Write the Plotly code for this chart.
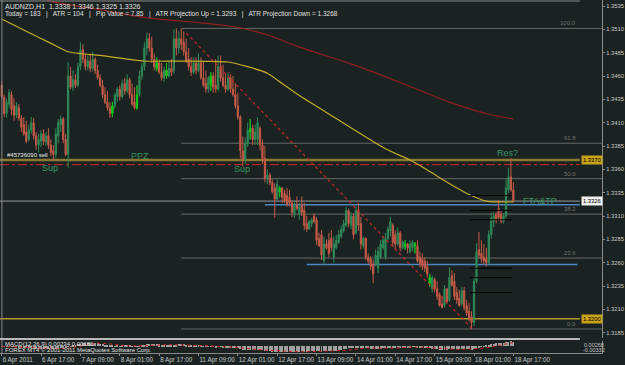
import plotly.graph_objects as go
import pandas as pd

# ---------------- data (AUDNZD H1, bar index 0 = 6 Apr 2011 01:00) ----------------
open_ = [
1.3450,1.3437,1.3420,1.3430,1.3440,1.3428,1.3418,1.3426,1.3415,1.3408,
1.3400,1.3392,1.3402,1.3410,1.3396,1.3386,1.3390,1.3398,1.3389,1.3396,
1.3386,1.3380,1.3376,1.3396,1.3408,1.3414,1.3392,1.3376,1.3460,1.3448,
1.3456,1.3450,1.3470,1.3488,1.3478,1.3470,1.3476,1.3468,1.3478,1.3466,
1.3458,1.3450,1.3440,1.3432,1.3426,1.3420,1.3428,1.3438,1.3446,1.3438,
1.3452,1.3444,1.3456,1.3440,1.3432,1.3426,1.3440,1.3460,1.3470,1.3490,
1.3500,1.3490,1.3478,1.3468,1.3474,1.3464,1.3458,1.3466,1.3460,1.3468,
1.3466,1.3500,1.3490,1.3500,1.3496,1.3486,1.3478,1.3470,1.3464,1.3474,
1.3466,1.3474,1.3458,1.3452,1.3446,1.3450,1.3460,1.3450,1.3446,1.3470,
1.3458,1.3450,1.3446,1.3458,1.3446,1.3440,1.3428,1.3416,1.3380,1.3370,
1.3388,1.3400,1.3404,1.3392,1.3392,1.3404,1.3386,1.3372,1.3350,1.3354,
1.3346,1.3340,1.3328,1.3336,1.3340,1.3334,1.3332,1.3330,1.3324,1.3312,
1.3322,1.3312,1.3322,1.3316,1.3302,1.3296,1.3302,1.3310,1.3306,1.3286,
1.3290,1.3262,1.3280,1.3284,1.3286,1.3266,1.3276,1.3282,1.3288,1.3294,
1.3300,1.3316,1.3300,1.3310,1.3292,1.3316,1.3302,1.3278,1.3286,1.3266,
1.3264,1.3258,1.3258,1.3254,1.3266,1.3276,1.3266,1.3286,1.3294,1.3300,
1.3290,1.3280,1.3292,1.3276,1.3278,1.3280,1.3272,1.3276,1.3278,1.3278,
1.3266,1.3264,1.3262,1.3256,1.3238,1.3232,1.3242,1.3232,1.3226,1.3216,
1.3214,1.3232,1.3220,1.3246,1.3240,1.3228,1.3222,1.3216,1.3230,1.3214,
1.3208,1.3202,1.3196,1.3240,1.3274,1.3270,1.3266,1.3264,1.3260,1.3290,
1.3304,1.3312,1.3318,1.3312,1.3304,1.3310,1.3338,1.3352,1.3338]

high_ = [
1.3454,1.3440,1.3436,1.3446,1.3444,1.3436,1.3432,1.3430,1.3418,1.3416,
1.3412,1.3408,1.3416,1.3415,1.3400,1.3398,1.3402,1.3403,1.3400,1.3404,
1.3392,1.3386,1.3404,1.3414,1.3418,1.3416,1.3398,1.3475,1.3470,1.3466,
1.3462,1.3474,1.3496,1.3494,1.3484,1.3482,1.3484,1.3486,1.3480,1.3472,
1.3462,1.3456,1.3448,1.3444,1.3432,1.3432,1.3442,1.3448,1.3450,1.3456,
1.3458,1.3462,1.3458,1.3452,1.3448,1.3450,1.3466,1.3474,1.3496,1.3506,
1.3506,1.3502,1.3484,1.3480,1.3478,1.3474,1.3470,1.3474,1.3476,1.3478,
1.3510,1.3511,1.3508,1.3511,1.3508,1.3500,1.3490,1.3480,1.3480,1.3480,
1.3484,1.3480,1.3476,1.3466,1.3460,1.3464,1.3464,1.3478,1.3482,1.3482,
1.3472,1.3462,1.3464,1.3462,1.3460,1.3452,1.3442,1.3418,1.3395,1.3394,
1.3410,1.3414,1.3408,1.3408,1.3416,1.3406,1.3392,1.3385,1.3360,1.3356,
1.3349,1.3345,1.3349,1.3342,1.3341,1.3338,1.3340,1.3338,1.3327,1.3327,
1.3331,1.3324,1.3331,1.3324,1.3310,1.3306,1.3308,1.3313,1.3309,1.3292,
1.3295,1.3288,1.3285,1.3292,1.3295,1.3288,1.3290,1.3295,1.3300,1.3306,
1.3320,1.3318,1.3314,1.3313,1.3320,1.3324,1.3309,1.3288,1.3287,1.3270,
1.3267,1.3263,1.3274,1.3277,1.3284,1.3288,1.3292,1.3299,1.3309,1.3302,
1.3295,1.3298,1.3294,1.3284,1.3284,1.3281,1.3284,1.3284,1.3282,1.3284,
1.3272,1.3270,1.3266,1.3262,1.3248,1.3246,1.3244,1.3240,1.3228,1.3224,
1.3236,1.3233,1.3255,1.3252,1.3249,1.3234,1.3231,1.3234,1.3234,1.3220,
1.3217,1.3208,1.3245,1.3281,1.3293,1.3284,1.3280,1.3276,1.3295,1.3314,
1.3314,1.3314,1.3327,1.3316,1.3313,1.3349,1.3362,1.3372,1.3346]

low_ = [
1.3436,1.3416,1.3415,1.3426,1.3418,1.3412,1.3415,1.3412,1.3400,1.3396,
1.3388,1.3390,1.3398,1.3392,1.3381,1.3378,1.3384,1.3386,1.3385,1.3382,
1.3374,1.3370,1.3372,1.3388,1.3400,1.3388,1.3374,1.3362,1.3446,1.3444,
1.3447,1.3448,1.3466,1.3474,1.3466,1.3466,1.3464,1.3465,1.3462,1.3456,
1.3448,1.3436,1.3430,1.3423,1.3415,1.3416,1.3425,1.3432,1.3434,1.3436,
1.3440,1.3442,1.3436,1.3428,1.3424,1.3424,1.3438,1.3456,1.3466,1.3482,
1.3486,1.3474,1.3466,1.3465,1.3462,1.3455,1.3454,1.3457,1.3458,1.3460,
1.3462,1.3482,1.3484,1.3488,1.3482,1.3474,1.3466,1.3460,1.3462,1.3462,
1.3464,1.3456,1.3448,1.3442,1.3442,1.3444,1.3442,1.3442,1.3444,1.3454,
1.3448,1.3442,1.3444,1.3442,1.3438,1.3425,1.3413,1.3372,1.3363,1.3366,
1.3384,1.3392,1.3386,1.3386,1.3386,1.3380,1.3366,1.3346,1.3344,1.3343,
1.3334,1.3308,1.3326,1.3330,1.3324,1.3324,1.3320,1.3320,1.3309,1.3308,
1.3316,1.3306,1.3310,1.3295,1.3293,1.3295,1.3298,1.3302,1.3279,1.3277,
1.3263,1.3258,1.3274,1.3266,1.3272,1.3260,1.3274,1.3280,1.3286,1.3292,
1.3298,1.3298,1.3296,1.3285,1.3290,1.3294,1.3274,1.3275,1.3263,1.3259,
1.3252,1.3238,1.3256,1.3249,1.3264,1.3274,1.3263,1.3284,1.3288,1.3277,
1.3274,1.3278,1.3272,1.3274,1.3274,1.3270,1.3270,1.3272,1.3270,1.3260,
1.3255,1.3252,1.3250,1.3244,1.3234,1.3228,1.3228,1.3220,1.3213,1.3211,
1.3212,1.3216,1.3218,1.3234,1.3220,1.3216,1.3213,1.3214,1.3209,1.3203,
1.3197,1.3189,1.3192,1.3238,1.3264,1.3260,1.3258,1.3256,1.3258,1.3286,
1.3298,1.3302,1.3305,1.3302,1.3302,1.3308,1.3335,1.3336,1.3325]

close_ = [
1.3438,1.3420,1.3432,1.3442,1.3424,1.3418,1.3428,1.3415,1.3405,1.3398,
1.3390,1.3402,1.3410,1.3396,1.3386,1.3392,1.3398,1.3390,1.3396,1.3386,
1.3378,1.3376,1.3398,1.3410,1.3414,1.3392,1.3376,1.3460,1.3448,1.3456,
1.3450,1.3470,1.3488,1.3478,1.3470,1.3476,1.3468,1.3478,1.3466,1.3458,
1.3450,1.3440,1.3432,1.3426,1.3420,1.3428,1.3440,1.3446,1.3438,1.3452,
1.3444,1.3456,1.3440,1.3430,1.3426,1.3440,1.3460,1.3470,1.3490,1.3500,
1.3490,1.3478,1.3470,1.3474,1.3464,1.3458,1.3466,1.3460,1.3468,1.3464,
1.3500,1.3490,1.3500,1.3494,1.3486,1.3476,1.3470,1.3464,1.3474,1.3466,
1.3474,1.3458,1.3450,1.3446,1.3458,1.3460,1.3448,1.3446,1.3470,1.3458,
1.3450,1.3446,1.3458,1.3446,1.3440,1.3428,1.3416,1.3380,1.3370,1.3388,
1.3402,1.3404,1.3392,1.3400,1.3410,1.3386,1.3372,1.3350,1.3354,1.3346,
1.3336,1.3328,1.3344,1.3340,1.3330,1.3326,1.3322,1.3324,1.3314,1.3322,
1.3318,1.3320,1.3314,1.3300,1.3296,1.3304,1.3306,1.3304,1.3284,1.3278,
1.3268,1.3280,1.3276,1.3270,1.3276,1.3280,1.3284,1.3290,1.3296,1.3302,
1.3316,1.3302,1.3310,1.3290,1.3316,1.3300,1.3280,1.3286,1.3266,1.3262,
1.3256,1.3248,1.3268,1.3272,1.3280,1.3284,1.3286,1.3296,1.3304,1.3282,
1.3280,1.3292,1.3276,1.3282,1.3280,1.3276,1.3280,1.3282,1.3280,1.3262,
1.3258,1.3256,1.3254,1.3248,1.3244,1.3244,1.3232,1.3224,1.3214,1.3212,
1.3232,1.3218,1.3244,1.3236,1.3224,1.3220,1.3214,1.3230,1.3212,1.3206,
1.3200,1.3196,1.3240,1.3272,1.3268,1.3264,1.3262,1.3260,1.3290,1.3308,
1.3310,1.3306,1.3308,1.3304,1.3310,1.3340,1.3352,1.3338,1.3326]

bright_idx = [45, 55, 63, 67, 85, 101, 113, 164, 168, 174]

# moving averages (bar index, price)
ma_fast_x = [0, 10, 20, 27, 40, 58, 73, 92, 100, 108, 114, 121, 135, 156, 166, 172, 178, 190, 197, 208]
ma_fast = [1.3521, 1.3508, 1.3495, 1.3486, 1.3482, 1.3476, 1.3476, 1.3475, 1.3470, 1.3463,
           1.3452, 1.3439, 1.3416, 1.3382, 1.3370, 1.3361, 1.3351, 1.3333, 1.3326, 1.3325]
ma_slow_x = [15, 20, 40, 60, 81, 94, 108, 121, 142, 162, 182, 198, 208]
ma_slow = [1.3545, 1.3540, 1.3531, 1.3522, 1.3517, 1.3513, 1.3504, 1.3491, 1.3473, 1.3453,
           1.3432, 1.3419, 1.3414]

trend_x = [75, 191]
trend_y = [1.3506, 1.3190]

fib_low, fib_high = 1.3189, 1.3511
fib_ratios = [0.0, 23.6, 38.2, 50.0, 61.8, 100.0]
fib_start = 73

ppz_level = 1.3370
sell_level = 1.3365
gold_level = 1.3200
bid_level = 1.3326
blue_lines = [(107, 235, 1.3322), (124, 234, 1.3258)]
black_levels = [1.3332, 1.3316, 1.3306, 1.3254, 1.3244, 1.3228]

price_labels = ["1.3535", "1.3510", "1.3485", "1.3460", "1.3435", "1.3410", "1.3385", "1.3360",
                "1.3335", "1.3310", "1.3285", "1.3260", "1.3235", "1.3210", "1.3185"]
tick_idx = [0, 16, 32, 48, 64, 80, 96, 112, 128, 144, 160, 176, 192, 208]
tick_labels = ["6 Apr 2011", "6 Apr 17:00", "7 Apr 09:00", "8 Apr 01:00", "8 Apr 17:00",
               "11 Apr 09:00", "12 Apr 01:00", "12 Apr 17:00", "13 Apr 09:00", "14 Apr 01:00",
               "14 Apr 17:00", "15 Apr 09:00", "18 Apr 01:00", "18 Apr 17:00"]

# ---------------- styling ----------------
W, H = 625, 365
BG = "#1a2321"
BULL = "#2f8a58"
BEAR = "#c45a48"
BRIGHT = "#10c810"
AX = "#8a8a8a"
AXTXT = "#c8c8c8"
LBL = "#3a9466"
FONT = "Liberation Sans"
PR = 602  # right edge of plotting area (px)

assert len(open_) == len(high_) == len(low_) == len(close_)
N = len(close_)
xs = list(range(N))


def py(px):
    return 1 - px / H


fig = go.Figure()

fig.add_trace(go.Candlestick(
    x=xs, open=open_, high=high_, low=low_, close=close_,
    increasing=dict(line=dict(color=BULL, width=1), fillcolor=BULL),
    decreasing=dict(line=dict(color=BEAR, width=1), fillcolor=BEAR),
    whiskerwidth=0, hoverinfo="skip", showlegend=False))

bo = [open_[i] if i in bright_idx else None for i in xs]
bh = [high_[i] if i in bright_idx else None for i in xs]
bl = [low_[i] if i in bright_idx else None for i in xs]
bc = [close_[i] if i in bright_idx else None for i in xs]
fig.add_trace(go.Candlestick(
    x=xs, open=bo, high=bh, low=bl, close=bc,
    increasing=dict(line=dict(color=BRIGHT, width=1), fillcolor=BRIGHT),
    decreasing=dict(line=dict(color=BRIGHT, width=1), fillcolor=BRIGHT),
    whiskerwidth=0, hoverinfo="skip", showlegend=False))

fig.add_trace(go.Scatter(x=ma_fast_x, y=ma_fast, mode="lines",
                         line=dict(color="#c4ac28", width=1.2, shape="spline", smoothing=0.6),
                         hoverinfo="skip"))
fig.add_trace(go.Scatter(x=ma_slow_x, y=ma_slow, mode="lines",
                         line=dict(color="#8e2020", width=1.2, shape="spline", smoothing=0.6),
                         hoverinfo="skip"))
fig.add_trace(go.Scatter(x=trend_x, y=trend_y, mode="lines",
                         line=dict(color="#c42a2a", width=1.2, dash="dot"), hoverinfo="skip"))

# MACD (12,26,9) from closes
cs = pd.Series(close_)
macd = cs.ewm(span=12, adjust=False).mean() - cs.ewm(span=26, adjust=False).mean()
signal = macd.rolling(9, min_periods=1).mean()
fig.add_trace(go.Bar(x=xs, y=list(macd), yaxis="y2",
                     marker=dict(color="#a0a0a0", line=dict(width=0)),
                     width=0.4, hoverinfo="skip"))
fig.add_trace(go.Scatter(x=xs, y=list(signal), yaxis="y2", mode="lines",
                         line=dict(color="#d02020", width=1, dash="dot"), hoverinfo="skip"))

shapes = []
xr = PR / W
# frame
shapes.append(dict(type="line", xref="paper", yref="paper", x0=0, x1=xr, y0=py(1), y1=py(1),
                   line=dict(color=AX, width=1)))
shapes.append(dict(type="line", xref="paper", yref="paper", x0=2 / W, x1=2 / W, y0=py(353), y1=1,
                   line=dict(color=AX, width=1)))
shapes.append(dict(type="line", xref="paper", yref="paper", x0=0, x1=xr, y0=py(339), y1=py(339),
                   line=dict(color="#b8b8b8", width=2)))
# fibonacci levels
for r in fib_ratios:
    lv = fib_low + r / 100.0 * (fib_high - fib_low)
    shapes.append(dict(type="line", xref="x", yref="y", x0=fib_start, x1=244, y0=lv, y1=lv,
                       line=dict(color="#686868", width=1), layer="below"))
# horizontal levels
shapes.append(dict(type="line", xref="paper", yref="y", x0=0, x1=xr, y0=ppz_level, y1=ppz_level,
                   line=dict(color="#8a7a30", width=2.5), layer="below"))
shapes.append(dict(type="line", xref="paper", yref="y", x0=0, x1=xr, y0=sell_level, y1=sell_level,
                   line=dict(color="#d02828", width=1, dash="dashdot"), layer="below"))
shapes.append(dict(type="line", xref="paper", yref="y", x0=0, x1=xr, y0=gold_level, y1=gold_level,
                   line=dict(color="#b39a2c", width=1.5), layer="below"))
shapes.append(dict(type="line", xref="paper", yref="y", x0=0, x1=xr, y0=bid_level, y1=bid_level,
                   line=dict(color="#9a9a9a", width=1), layer="below"))
for x0, x1, lv in blue_lines:
    shapes.append(dict(type="line", xref="x", yref="y", x0=x0, x1=x1, y0=lv, y1=lv,
                       line=dict(color="#4a86c2", width=1.6), layer="below"))
for lv in black_levels:
    shapes.append(dict(type="line", xref="x", yref="y", x0=190.4, x1=207.4, y0=lv, y1=lv,
                       line=dict(color="#000000", width=1)))

ann = []
ann.append(dict(text="AUDNZD,H1  1.3338 1.3346 1.3325 1.3326", xref="paper", yref="paper",
                x=3 / W, y=py(6), xanchor="left", yanchor="middle", showarrow=False,
                font=dict(size=7, color="#e0e0e0", family=FONT)))
ann.append(dict(text="Today = 183   |   ATR = 104   |   Pip Value = 7.85   |   ATR Projection Up = 1.3293   |   ATR Projection Down = 1.3268",
                xref="paper", yref="paper", x=3 / W, y=py(13.5), xanchor="left", yanchor="middle",
                showarrow=False, font=dict(size=6.5, color="#e0e0e0", family=FONT)))
# chart labels
for txt, xi, yv in [("Sup", 19.6, 1.33614), ("PPZ", 56.2, 1.33743), ("Sup", 97.7, 1.33604),
                    ("Res?", 205.8, 1.33775), ("FTA&TP", 218.8, 1.33261)]:
    ann.append(dict(text=txt, xref="x", yref="y", x=xi, y=yv, xanchor="center", yanchor="middle",
                    showarrow=False, font=dict(size=9, color=LBL, family=FONT)))
ann.append(dict(text="#45736090 sell", xref="x", yref="y", x=1.3, y=1.33749, xanchor="left",
                yanchor="middle", showarrow=False, font=dict(size=6, color="#e8e8e8", family=FONT)))
# fib labels
for r in fib_ratios:
    lv = fib_low + r / 100.0 * (fib_high - fib_low)
    ann.append(dict(text=f"{r:.1f}", xref="paper", yref="y", x=600 / W, y=lv, xanchor="right",
                    yanchor="bottom", showarrow=False, font=dict(size=6, color="#707070", family=FONT)))
# axis price boxes
for lv, bgc in [(ppz_level, "#c8a218"), (bid_level, "#f0f0f0"), (gold_level, "#c8a218")]:
    ann.append(dict(text=f"{lv:.4f}", xref="paper", yref="y", x=603 / W, y=lv, xanchor="left",
                    yanchor="middle", showarrow=False, bgcolor=bgc, borderpad=1,
                    font=dict(size=5.8, color="#000000", family=FONT)))
# MACD labels
ann.append(dict(text="MACD(12,26,9) 0.00234 0.00181", xref="paper", yref="paper", x=3 / W, y=py(343.5),
                xanchor="left", yanchor="middle", showarrow=False,
                font=dict(size=6, color="#e0e0e0", family=FONT)))
ann.append(dict(text="FOREX MT4 © 2001-2011 MetaQuotes Software Corp.", xref="paper", yref="paper",
                x=3 / W, y=py(349.5), xanchor="left", yanchor="middle", showarrow=False,
                font=dict(size=6, color="#e0e0e0", family=FONT)))
ann.append(dict(text="0.00268", xref="paper", yref="paper", x=604 / W, y=py(344.5), xanchor="left",
                yanchor="middle", showarrow=False, font=dict(size=5.5, color=AXTXT, family=FONT)))
ann.append(dict(text="-0.00332", xref="paper", yref="paper", x=603 / W, y=py(349.5), xanchor="left",
                yanchor="middle", showarrow=False, font=dict(size=5.5, color=AXTXT, family=FONT)))

main_bottom_px = 338
px_per_unit = 9334.0
y_top = 1.3535 + 6 / px_per_unit
y_bot = 1.3535 - (main_bottom_px - 6) / px_per_unit

fig.update_layout(
    width=W, height=H, margin=dict(l=0, r=W - PR, t=0, b=0),
    paper_bgcolor=BG, plot_bgcolor=BG, showlegend=False, bargap=0,
    shapes=shapes, annotations=ann,
    xaxis=dict(domain=[0, 1], range=[(0 - 1.7) / 2.46, (PR - 1.7) / 2.46], anchor="y2",
               tickvals=tick_idx, ticktext=tick_labels, ticklabelposition="outside right",
               tickangle=0, ticks="outside", ticklen=2, tickcolor=AX,
               tickfont=dict(size=6.3, color=AXTXT, family=FONT),
               showgrid=False, zeroline=False, showline=True, linecolor=AX,
               rangeslider=dict(visible=False), automargin=False, fixedrange=True),
    yaxis=dict(domain=[py(main_bottom_px), 1], range=[y_bot, y_top], side="right", anchor="x",
               tickvals=[float(s) for s in price_labels], ticktext=price_labels,
               ticks="outside", ticklen=2, tickcolor=AX,
               tickfont=dict(size=5.8, color=AXTXT, family=FONT),
               showgrid=False, zeroline=False, showline=True, linecolor=AX, automargin=False),
    yaxis2=dict(domain=[py(353), py(341)], range=[-0.00332, 0.00268], side="right", anchor="x",
                showticklabels=False, ticks="", showgrid=False, zeroline=False,
                showline=True, linecolor=AX, automargin=False),
)

fig.write_html("out.html")
